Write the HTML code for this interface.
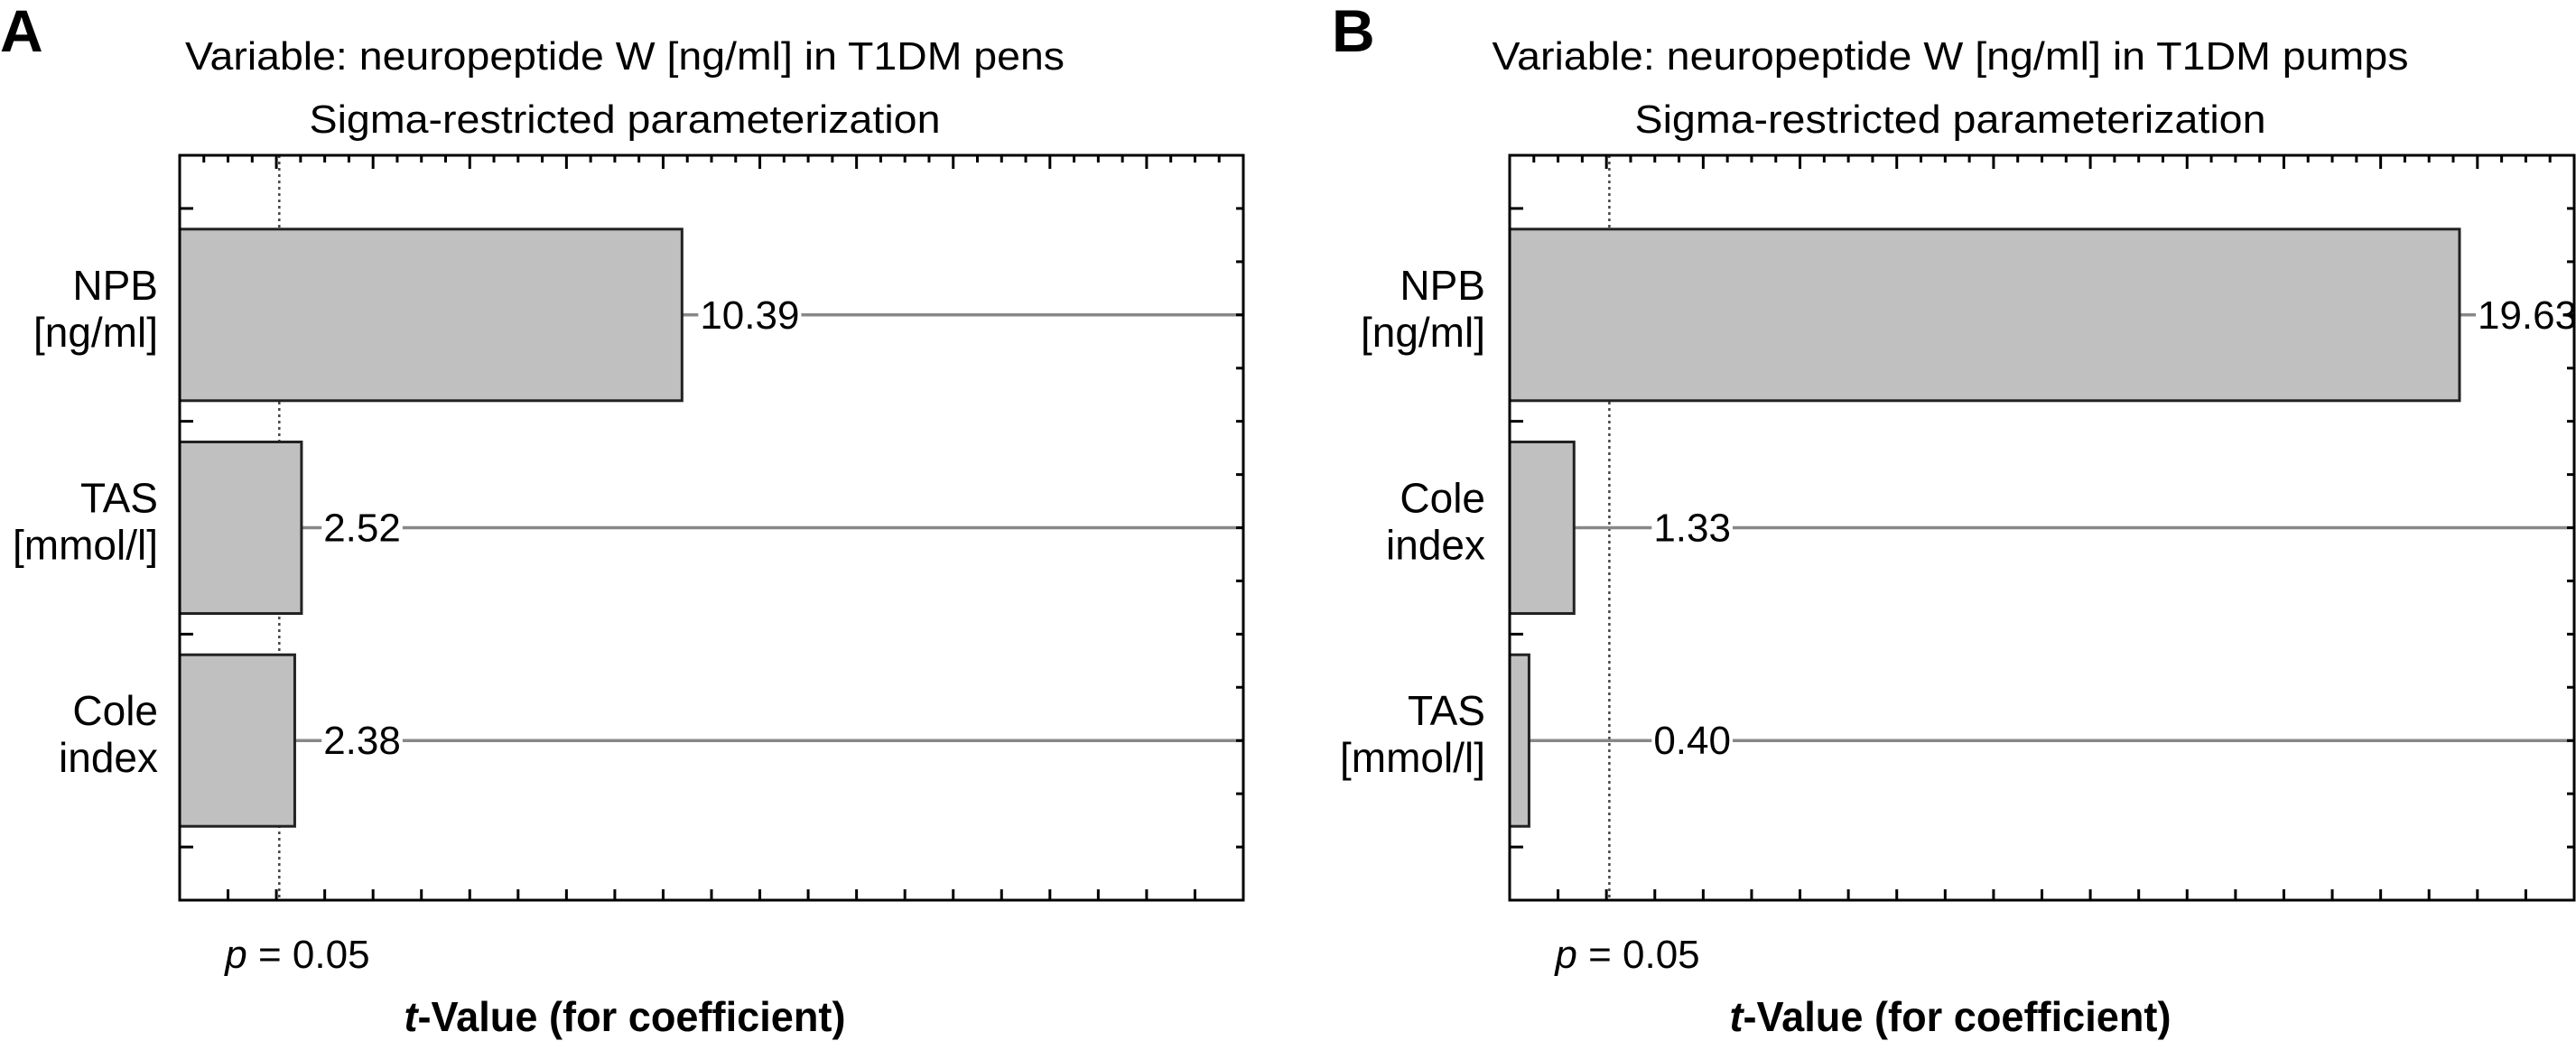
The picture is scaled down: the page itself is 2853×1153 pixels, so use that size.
<!DOCTYPE html>
<html><head><meta charset="utf-8"><style>
html,body{margin:0;padding:0;background:#fff;}
svg{display:block;font-family:"Liberation Sans",sans-serif;}
</style></head><body>
<svg id="fig" width="2853" height="1153" viewBox="0 0 2853 1153"></svg>
<script>
const catsA = [["NPB","[ng/ml]"],["TAS","[mmol/l]"],["Cole","index"]];
const valsA = [10.39, 2.52, 2.38];
const labelsA = ["10.39","2.52","2.38"];
const catsB = [["NPB","[ng/ml]"],["Cole","index"],["TAS","[mmol/l]"]];
const valsB = [19.63, 1.33, 0.40];
const labelsB = ["19.63","1.33","0.40"];
const xMax = 22;
const pCrit = 2.06;
const titlesA = ["Variable: neuropeptide W [ng/ml] in T1DM pens","Sigma-restricted parameterization"];
const titlesB = ["Variable: neuropeptide W [ng/ml] in T1DM pumps","Sigma-restricted parameterization"];

const NS="http://www.w3.org/2000/svg";
const svg=document.getElementById('fig');
function mk(tag,attrs,parent,text){
  const e=document.createElementNS(NS,tag);
  for(const k in attrs) e.setAttribute(k,attrs[k]);
  if(text!==undefined) e.textContent=text;
  (parent||svg).appendChild(e);
  return e;
}
function panel(letter,letterX,L,R,cats,vals,labels,titles,tW1,tCx,catRight){
  const T=172,B=997;
  const g=mk('g',{});
  
  
  const xs=v=>L+(v/xMax)*(R-L);
  const band=(B-T)/3.5;
  const yc=i=>T+band*0.25+band*(i+0.5);
  const pl=mk('text',{x:letterX,y:57,'font-size':66,'font-weight':'bold'},g,letter);
  
  
  const t1=mk('text',{x:tCx,y:77,'font-size':44,'text-anchor':'middle',textLength:tW1,lengthAdjust:'spacingAndGlyphs'},g,titles[0]);
  
  
  const t2=mk('text',{x:tCx,y:147,'font-size':44,'text-anchor':'middle',textLength:699,lengthAdjust:'spacingAndGlyphs'},g,titles[1]);
  
  
  const dl=mk('line',{x1:xs(pCrit),x2:xs(pCrit),y1:T,y2:B,stroke:'#444','stroke-width':2.5,'stroke-dasharray':'3,4'},g);
  
  
  for(let i=0;i<vals.length;i++){
    const cy=yc(i);
    const ln=mk('line',{x1:xs(vals[i]),x2:R,y1:cy,y2:cy,stroke:'#888','stroke-width':3.5},g);
    
    
    const bar=mk('rect',{x:L,y:cy-95,width:xs(vals[i])-L,height:190,fill:'#c0c0c0',stroke:'#222','stroke-width':3},g);
    
    
    const lx=xs(Math.max(vals[i],2.6))+20;
    const bg=mk('rect',{x:lx-2,y:cy-22,width:10,height:44,fill:'#fff'},g);
    
    
    const vl=mk('text',{x:lx,y:cy+15,'font-size':44},g,labels[i]);
    
    
    bg.setAttribute('width', vl.getComputedTextLength()+4);
    const c1=mk('text',{x:catRight,y:cy-17,'font-size':46,'text-anchor':'end'},g,cats[i][0]);
    
    
    const c2=mk('text',{x:catRight,y:cy+35,'font-size':46,'text-anchor':'end'},g,cats[i][1]);
    
    
  }
  const fr=mk('rect',{x:L,y:T,width:R-L,height:B-T,fill:'none',stroke:'#000','stroke-width':3},g);
  
  
  let d='';
  for(let v=0.5;v<xMax;v+=0.5){
    const x=xs(v); const len=(Math.abs(v%2)<1e-6)?15:8;
    d+=`M${x},${T}v${len}`;
  }
  for(let v=1;v<xMax;v++){ d+=`M${xs(v)},${B}v-12`; }
  for(let k=0;k<4;k++){ const y=T+band*0.25+band*k; d+=`M${L},${y}h15`; }
  for(let k=1;k<14;k++){ const y=T+band*0.25*k; d+=`M${R},${y}h-8`; }
  const tk=mk('path',{d:d,stroke:'#000','stroke-width':3,fill:'none'},g);
  
  
  const pt=mk('text',{x:xs(pCrit)-60,y:1072,'font-size':44},g);
  
  
  mk('tspan',{'font-style':'italic'},pt,'p');
  mk('tspan',{},pt,' = 0.05');
  const at=mk('text',{x:tCx,y:1142,'font-size':46,'font-weight':'bold','text-anchor':'middle',textLength:489,lengthAdjust:'spacingAndGlyphs'},g);
  
  
  mk('tspan',{'font-style':'italic'},at,'t');
  mk('tspan',{},at,'-Value (for coefficient)');
}
panel('A',0,199,1377,catsA,valsA,labelsA,titlesA,974,692,175);
panel('B',1475,1672,2851,catsB,valsB,labelsB,titlesB,1015,2160,1645);
</script>
</body></html>
